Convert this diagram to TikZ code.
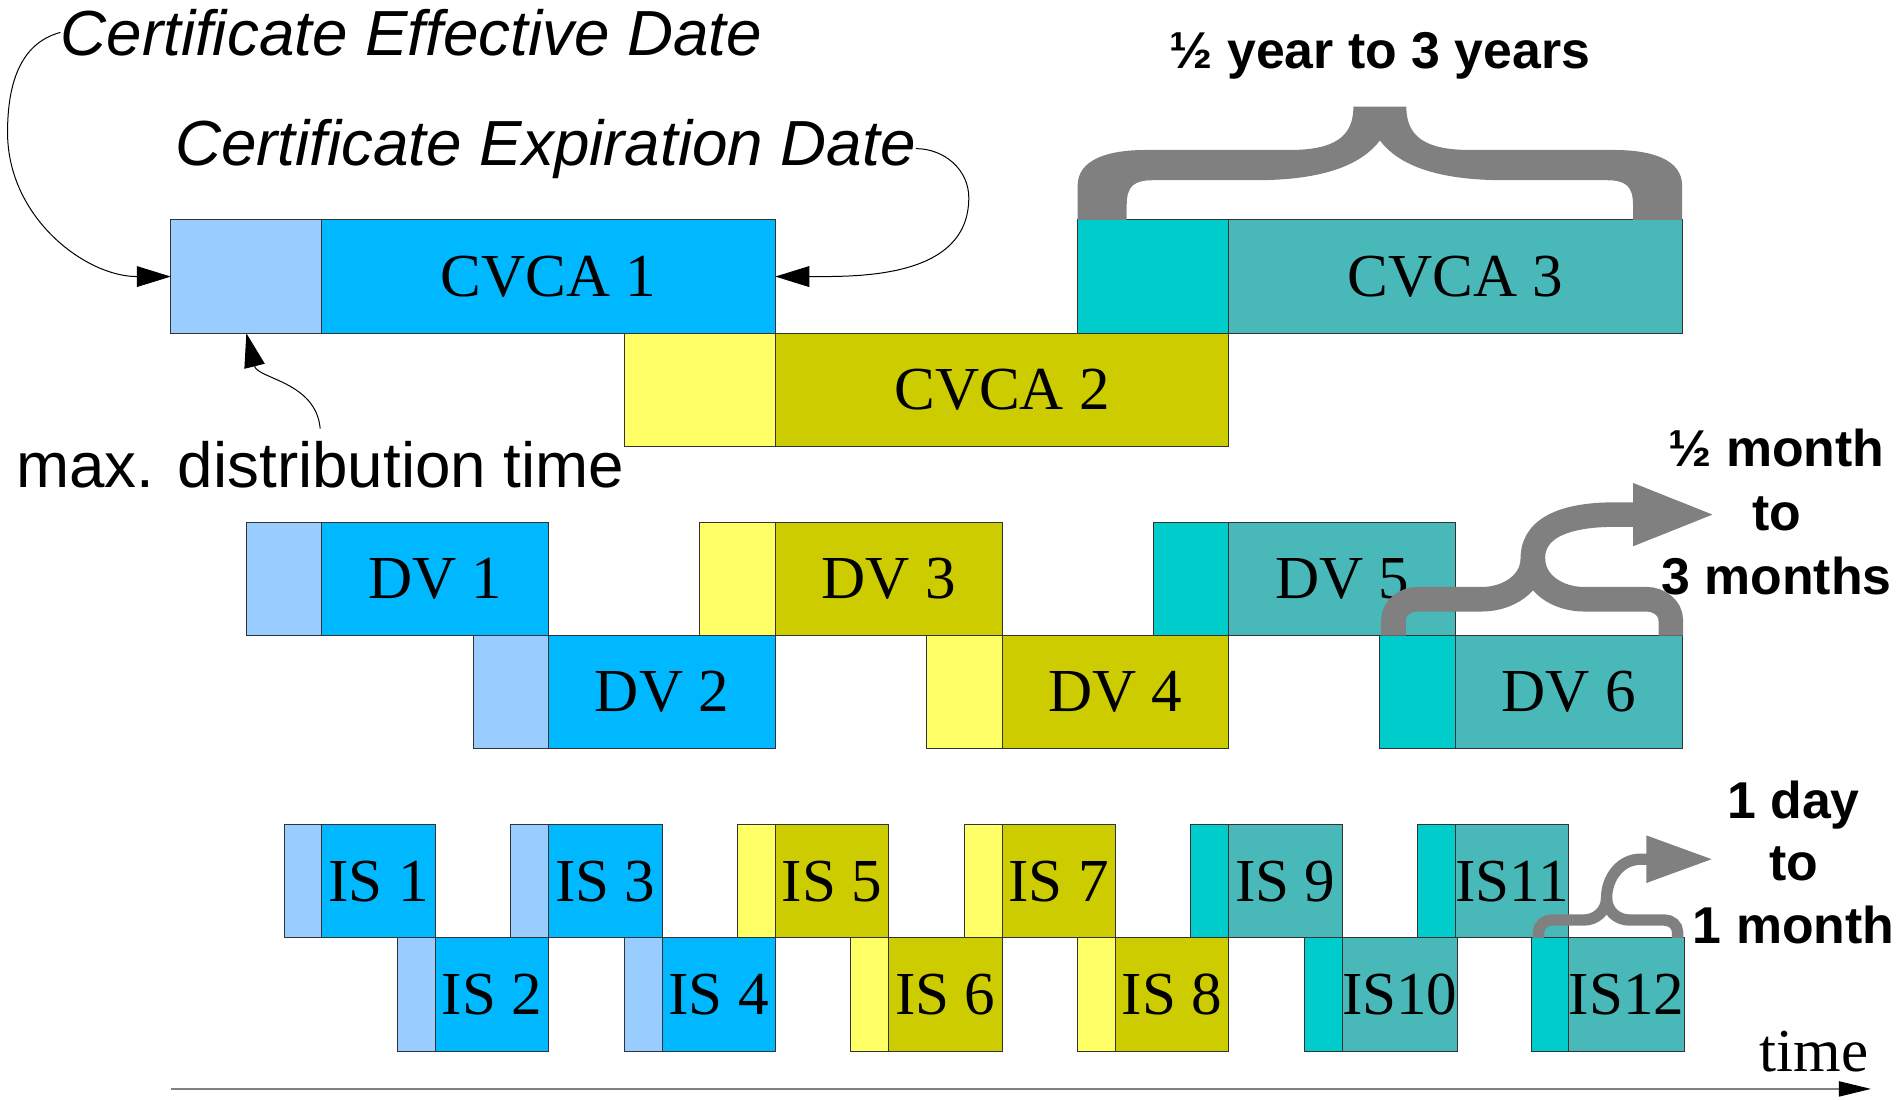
\documentclass[tikz,border=0pt]{standalone}
\usepackage{fontspec}
\setmainfont{Liberation Serif}
\newfontfamily\arialfont{Liberation Sans}
\usepackage{tikz}
\usetikzlibrary{arrows.meta,positioning}

\definecolor{bluelight}{HTML}{99CCFF}
\definecolor{bluedark}{HTML}{00B8FF}
\definecolor{yellowlight}{HTML}{FFFF66}
\definecolor{yellowdark}{HTML}{CCCC00}
\definecolor{teallight}{HTML}{00CCCC}
\definecolor{tealdark}{HTML}{48B8B8}
\definecolor{bracegray}{HTML}{808080}

\begin{document}
\begin{tikzpicture}[x=1cm,y=1cm,
  cert/.style={draw=black!80,line width=0.7pt,inner sep=0pt,outer sep=0pt,minimum height=3cm,font=\fontsize{46}{50}\selectfont},
  distbox/.style={cert,anchor=south west},
  note/.style={inner sep=0pt,font=\arialfont\itshape\fontsize{48}{56}\selectfont},
  spanlabel/.style={inner sep=0pt,anchor=base,font=\arialfont\bfseries\fontsize{39}{46}\selectfont},
  pointer/.style={-{Triangle[length=9mm,width=5.5mm]},line width=0.75pt},
  bracestroke/.style={draw=bracegray,line cap=butt}]
  \useasboundingbox (-4.52,-0.27) rectangle (45.74,28.82);

  \node[distbox,fill=bluelight,minimum width=4cm] (cvca1l) at (0,20) {};
  \node[cert,fill=bluedark,minimum width=12cm,right=0pt of cvca1l] (cvca1) {CVCA 1};
  \node[distbox,fill=yellowlight,minimum width=4cm] (cvca2l) at (12,17) {};
  \node[cert,fill=yellowdark,minimum width=12cm,right=0pt of cvca2l] (cvca2) {CVCA 2};
  \node[distbox,fill=teallight,minimum width=4cm] (cvca3l) at (24,20) {};
  \node[cert,fill=tealdark,minimum width=12cm,right=0pt of cvca3l] (cvca3) {CVCA 3};

  \node[distbox,fill=bluelight,minimum width=2cm] (dv1l) at (2,12) {};
  \node[cert,fill=bluedark,minimum width=6cm,right=0pt of dv1l] (dv1) {DV 1};
  \node[distbox,fill=bluelight,minimum width=2cm] (dv2l) at (8,9) {};
  \node[cert,fill=bluedark,minimum width=6cm,right=0pt of dv2l] (dv2) {DV 2};
  \node[distbox,fill=yellowlight,minimum width=2cm] (dv3l) at (14,12) {};
  \node[cert,fill=yellowdark,minimum width=6cm,right=0pt of dv3l] (dv3) {DV 3};
  \node[distbox,fill=yellowlight,minimum width=2cm] (dv4l) at (20,9) {};
  \node[cert,fill=yellowdark,minimum width=6cm,right=0pt of dv4l] (dv4) {DV 4};
  \node[distbox,fill=teallight,minimum width=2cm] (dv5l) at (26,12) {};
  \node[cert,fill=tealdark,minimum width=6cm,right=0pt of dv5l] (dv5) {DV 5};
  \node[distbox,fill=teallight,minimum width=2cm] (dv6l) at (32,9) {};
  \node[cert,fill=tealdark,minimum width=6cm,right=0pt of dv6l] (dv6) {DV 6};

  \node[distbox,fill=bluelight,minimum width=1cm] (is1l) at (3,4) {};
  \node[cert,fill=bluedark,minimum width=3cm,right=0pt of is1l] (is1) {IS 1};
  \node[distbox,fill=bluelight,minimum width=1cm] (is2l) at (6,1) {};
  \node[cert,fill=bluedark,minimum width=3cm,right=0pt of is2l] (is2) {IS 2};
  \node[distbox,fill=bluelight,minimum width=1cm] (is3l) at (9,4) {};
  \node[cert,fill=bluedark,minimum width=3cm,right=0pt of is3l] (is3) {IS 3};
  \node[distbox,fill=bluelight,minimum width=1cm] (is4l) at (12,1) {};
  \node[cert,fill=bluedark,minimum width=3cm,right=0pt of is4l] (is4) {IS 4};
  \node[distbox,fill=yellowlight,minimum width=1cm] (is5l) at (15,4) {};
  \node[cert,fill=yellowdark,minimum width=3cm,right=0pt of is5l] (is5) {IS 5};
  \node[distbox,fill=yellowlight,minimum width=1cm] (is6l) at (18,1) {};
  \node[cert,fill=yellowdark,minimum width=3cm,right=0pt of is6l] (is6) {IS 6};
  \node[distbox,fill=yellowlight,minimum width=1cm] (is7l) at (21,4) {};
  \node[cert,fill=yellowdark,minimum width=3cm,right=0pt of is7l] (is7) {IS 7};
  \node[distbox,fill=yellowlight,minimum width=1cm] (is8l) at (24,1) {};
  \node[cert,fill=yellowdark,minimum width=3cm,right=0pt of is8l] (is8) {IS 8};
  \node[distbox,fill=teallight,minimum width=1cm] (is9l) at (27,4) {};
  \node[cert,fill=tealdark,minimum width=3cm,right=0pt of is9l] (is9) {IS 9};
  \node[distbox,fill=teallight,minimum width=1cm] (is10l) at (30,1) {};
  \node[cert,fill=tealdark,minimum width=3cm,right=0pt of is10l] (is10) {IS10};
  \node[distbox,fill=teallight,minimum width=1cm] (is11l) at (33,4) {};
  \node[cert,fill=tealdark,minimum width=3cm,right=0pt of is11l] (is11) {IS11};
  \node[distbox,fill=teallight,minimum width=1cm] (is12l) at (36,1) {};
  \node[cert,fill=tealdark,minimum width=3cm,right=0pt of is12l] (is12) {IS12};

  \node[note,anchor=base west] (eff) at (-2.92,27.36) {Certificate Effective Date};
  \node[note,anchor=base west] (exp) at (0.11,24.45) {Certificate Expiration Date};
  \node[note,font=\arialfont\fontsize{48}{56}\selectfont,anchor=base west] (dist) at (-4.1,15.93) {max. distribution time};

  \draw[pointer] (eff.west) to[out=195,in=90] ++(-1.4,-2.65) to[out=-90,in=180] (cvca1l.west);
  \draw[pointer] (exp.east) to[out=0,in=90] ++(1.4,-1.3) to[out=-90,in=0] (cvca1.east);
  \draw[pointer] ([yshift=9pt]dist.north) to[out=95,in=-76] (cvca1l.south);

  \fill[bracegray] (24,23) -- (24,23.9) .. controls (24,24.6) and (24.8,24.85) .. (25.8,24.85)
    -- (29.6,24.85) .. controls (30.8,24.85) and (31.3,25.2) .. (31.3,26) -- (32.7,26)
    .. controls (32.7,25.2) and (33.2,24.85) .. (34.4,24.85) -- (38.2,24.85)
    .. controls (39.2,24.85) and (40,24.6) .. (40,23.9) -- (40,23) -- (38.7,23) -- (38.7,23.4)
    .. controls (38.7,23.9) and (38.5,24.05) .. (38,24.05) -- (35.3,24.05)
    .. controls (33.5,24.05) and (32.5,24.45) .. (32,25.1)
    .. controls (31.5,24.45) and (30.5,24.05) .. (28.7,24.05) -- (26,24.05)
    .. controls (25.5,24.05) and (25.3,23.9) .. (25.3,23.4) -- (25.3,23) -- cycle;

  \draw[bracestroke,line width=0.65cm,-{Triangle[length=2.24cm,width=1.48cm]}] (32.36,12) -- (32.36,12.4)
    to[out=90,in=180] (33,12.96) -- (34.7,12.96) to[out=0,in=-90] (36.05,14.05)
    to[out=90,in=180] (38.2,15.2) -- (40.94,15.2);
  \draw[bracestroke,line width=0.65cm] (39.7,12) -- (39.7,12.4) to[out=90,in=0] (39.05,12.96)
    -- (37.4,12.96) to[out=180,in=-90] (36.05,14.05);

  \draw[bracestroke,line width=0.3cm,-{Triangle[length=1.77cm,width=1.17cm]}] (36.2,4) -- (36.2,4.15)
    to[out=90,in=180] (36.55,4.47) -- (37.4,4.47) to[out=0,in=-90] (38,5.05)
    to[out=90,in=180] (38.9,6.08) -- (40.82,6.08);
  \draw[bracestroke,line width=0.3cm] (39.88,4) -- (39.88,4.15) to[out=90,in=0] (39.53,4.47)
    -- (38.6,4.47) to[out=180,in=-90] (38,5.05);

  \node[spanlabel] (years) at (32,27.0) {½ year to 3 years};
  \node[spanlabel] (mon1) at (42.5,16.48) {½ month};
  \node[spanlabel] (mon2) at (42.5,14.79) {to};
  \node[spanlabel] (mon3) at (42.5,13.09) {3 months};
  \node[spanlabel] (day1) at (42.95,7.17) {1 day};
  \node[spanlabel] (day2) at (42.95,5.52) {to};
  \node[spanlabel] (day3) at (42.95,3.86) {1 month};

  \coordinate (t0) at (0,0);
  \coordinate (t1) at (45,0);
  \draw[draw=bracegray,line width=1.1pt,-{Triangle[length=8.5mm,width=4mm,color=black]}] (t0) -- (t1);
  \node[inner sep=0pt,anchor=base east,font=\fontsize{46}{50}\selectfont] (time) at (44.93,0.45) {time};
\end{tikzpicture}
\end{document}
